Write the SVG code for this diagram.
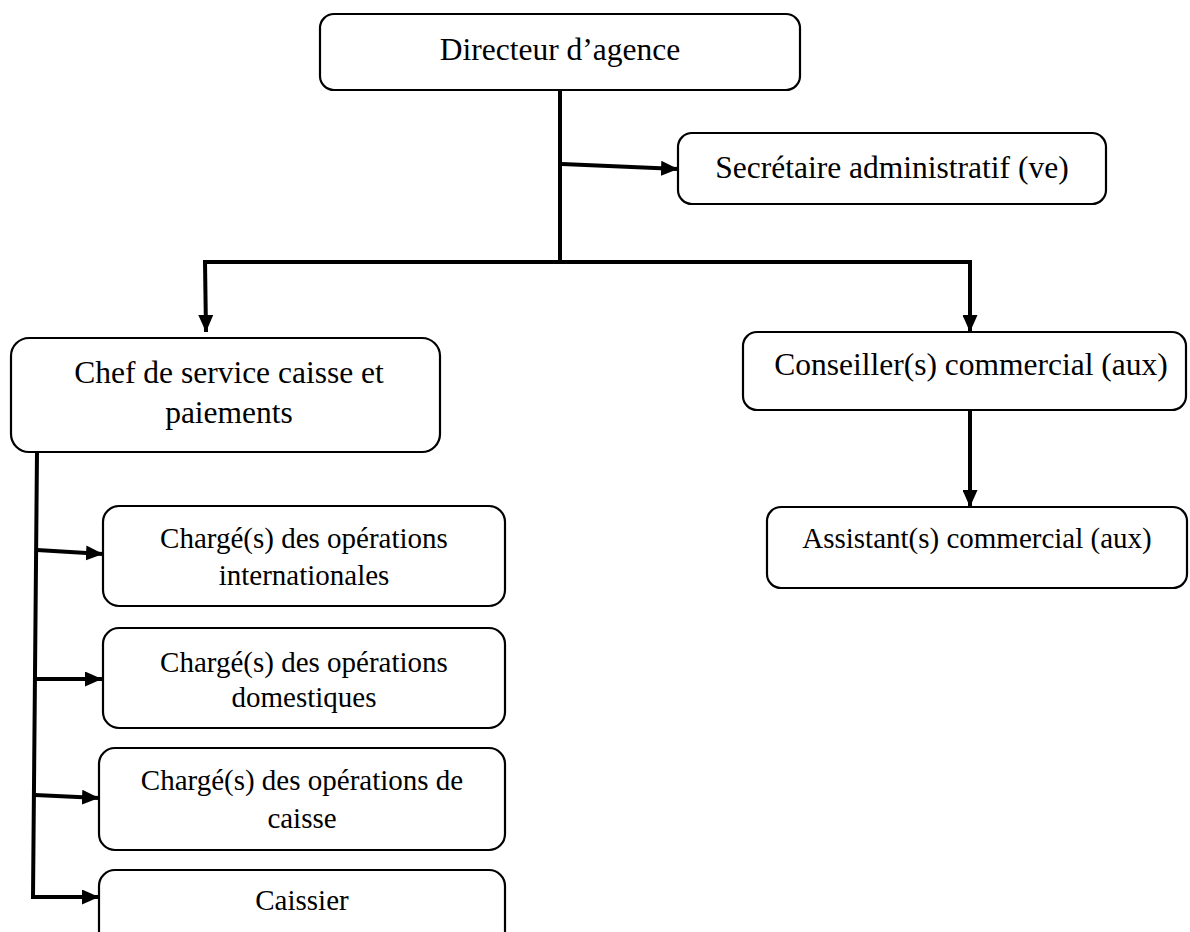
<svg xmlns="http://www.w3.org/2000/svg" width="1190" height="932" viewBox="0 0 1190 932">
  <style>
    .box { fill: #ffffff; stroke: #000000; stroke-width: 2.2; }
    .lbl { font-family: "Liberation Serif", "Times New Roman", serif; fill: #000000; text-anchor: middle; }
    .big { font-size: 31.5px; }
    .small { font-size: 29px; }
    .wire { fill: none; stroke: #000000; stroke-width: 4; stroke-linecap: square; }
    .arrow { fill: none; stroke: #000000; stroke-width: 4; marker-end: url(#head); }
  </style>
  <defs>
    <marker id="head" markerUnits="userSpaceOnUse" markerWidth="17" markerHeight="15" refX="17" refY="7.5" orient="auto">
      <path d="M0,0 L17,7.5 L0,15 z" fill="#000000"/>
    </marker>
  </defs>
  <rect width="1190" height="932" fill="#ffffff"/>

  <!-- connectors -->
  <g id="connectors">
    <!-- trunk from the director down to the distribution bar -->
    <line class="wire" x1="560" y1="91" x2="560" y2="262"/>
    <line class="wire" x1="205" y1="262" x2="970" y2="262"/>
    <!-- to the secretary -->
    <line class="arrow" x1="562" y1="164" x2="678" y2="169"/>
    <!-- to the two heads of service -->
    <line class="arrow" x1="205" y1="262" x2="206" y2="332"/>
    <line class="arrow" x1="970" y1="262" x2="970" y2="332"/>
    <!-- advisor to assistant -->
    <line class="arrow" x1="970" y1="410" x2="970" y2="507"/>
    <!-- cash service spine -->
    <polyline class="wire" points="37,452 33,897"/>
    <line class="arrow" x1="37" y1="550" x2="103" y2="554"/>
    <line class="arrow" x1="36" y1="679" x2="102" y2="679"/>
    <line class="arrow" x1="35" y1="795" x2="99" y2="798"/>
    <line class="arrow" x1="33" y1="897" x2="99" y2="897"/>
  </g>

  <g id="directeur">
    <rect class="box" x="320" y="14" width="480" height="76" rx="14"/>
    <text class="lbl big" x="560" y="60">Directeur d’agence</text>
  </g>

  <g id="secretaire">
    <rect class="box" x="678" y="133" width="428" height="71" rx="14"/>
    <text class="lbl big" x="892" y="178">Secrétaire administratif (ve)</text>
  </g>

  <g id="chef-caisse">
    <rect class="box" x="11" y="338" width="429" height="114" rx="18"/>
    <text class="lbl big" x="229" y="383">Chef de service caisse et</text>
    <text class="lbl big" x="229" y="423">paiements</text>
  </g>

  <g id="conseiller">
    <rect class="box" x="743" y="332" width="443" height="78" rx="14"/>
    <text class="lbl big" x="971" y="375">Conseiller(s) commercial (aux)</text>
  </g>

  <g id="assistant">
    <rect class="box" x="767" y="507" width="420" height="81" rx="14"/>
    <text class="lbl small" x="977" y="548">Assistant(s) commercial (aux)</text>
  </g>

  <g id="operations-internationales">
    <rect class="box" x="103" y="506" width="402" height="100" rx="16"/>
    <text class="lbl small" x="304" y="548">Chargé(s) des opérations</text>
    <text class="lbl small" x="304" y="585">internationales</text>
  </g>

  <g id="operations-domestiques">
    <rect class="box" x="103" y="628" width="402" height="100" rx="16"/>
    <text class="lbl small" x="304" y="672">Chargé(s) des opérations</text>
    <text class="lbl small" x="304" y="707">domestiques</text>
  </g>

  <g id="operations-caisse">
    <rect class="box" x="99" y="748" width="406" height="102" rx="16"/>
    <text class="lbl small" x="302" y="790">Chargé(s) des opérations de</text>
    <text class="lbl small" x="302" y="828">caisse</text>
  </g>

  <g id="caissier">
    <rect class="box" x="99" y="870" width="406" height="80" rx="16"/>
    <text class="lbl small" x="302" y="910">Caissier</text>
  </g>
</svg>
